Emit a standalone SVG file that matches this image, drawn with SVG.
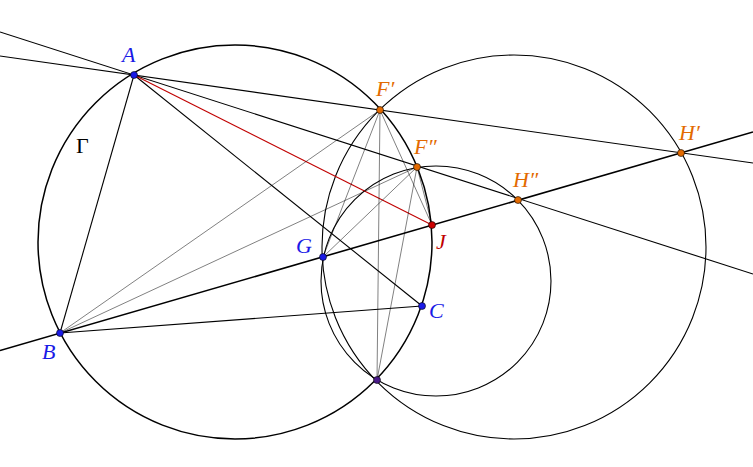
<svg xmlns="http://www.w3.org/2000/svg" width="753" height="467" viewBox="0 0 753 467">
<style>
.c{fill:none;stroke:#000;stroke-width:1.1}
.l{stroke:#000;stroke-width:1.1}
.t{stroke:#000;stroke-width:0.5}
.p{stroke:#000;stroke-width:0.6}
text{font-family:"Liberation Serif",serif;font-style:italic;font-size:22px}
.bl{fill:#1a1ae6}.or{fill:#e36a00}.rd{fill:#c00000}
</style>
<rect width="753" height="467" fill="#fff"/>
<g id="connectors">
<circle class="c" cx="235" cy="242" r="197" style="stroke-width:1.5"/>
<circle class="c" cx="514" cy="247" r="192"/>
<circle class="c" cx="436" cy="281" r="115"/>
<line class="l" x1="0" y1="350.5" x2="753" y2="132" style="stroke-width:1.6"/>
<line class="l" x1="0" y1="32" x2="753" y2="274"/>
<line class="l" x1="0" y1="56" x2="753" y2="163"/>
<line class="l" x1="134" y1="75" x2="60" y2="333"/>
<line class="l" x1="134" y1="75" x2="422" y2="306"/>
<line class="l" x1="60" y1="333" x2="422" y2="306"/>
<line x1="134" y1="75" x2="432" y2="225" stroke="#c00000" stroke-width="1.1"/>
<line class="t" x1="60" y1="333" x2="380" y2="110"/>
<line class="t" x1="60" y1="333" x2="417" y2="167"/>
<line class="t" x1="380" y1="110" x2="323" y2="257"/>
<line class="t" x1="380" y1="110" x2="377" y2="380"/>
<line class="t" x1="380" y1="110" x2="432" y2="225"/>
<line class="t" x1="417" y1="167" x2="323" y2="257"/>
<line class="t" x1="417" y1="167" x2="377" y2="380"/>
<line class="t" x1="417" y1="167" x2="432" y2="225"/>
</g>
<g id="A"><circle class="p" cx="134" cy="75" r="3.5" fill="#1a1ae6"/><text class="bl" x="122" y="62">A</text></g>
<g id="B"><circle class="p" cx="60" cy="333" r="3.5" fill="#1a1ae6"/><text class="bl" x="42" y="359">B</text></g>
<g id="C"><circle class="p" cx="422" cy="306" r="3.5" fill="#1a1ae6"/><text class="bl" x="429" y="318">C</text></g>
<g id="G"><circle class="p" cx="323" cy="257" r="3.5" fill="#1a1ae6"/><text class="bl" x="296" y="253">G</text></g>
<g id="J"><circle class="p" cx="432" cy="225" r="3.5" fill="#cc0000"/><text class="rd" x="436" y="249">J</text></g>
<g id="Fp"><circle class="p" cx="380" cy="110" r="3.5" fill="#e36a00"/><text class="or" x="376" y="96">F′</text></g>
<g id="Fpp"><circle class="p" cx="417" cy="167" r="3.5" fill="#e36a00"/><text class="or" x="414" y="154">F″</text></g>
<g id="Hpp"><circle class="p" cx="518" cy="200" r="3.5" fill="#e36a00"/><text class="or" x="513" y="187">H″</text></g>
<g id="Hp"><circle class="p" cx="681" cy="153" r="3.5" fill="#e36a00"/><text class="or" x="679" y="140">H′</text></g>
<g id="X"><circle class="p" cx="377" cy="380" r="3.5" fill="#4a1a8a"/></g>
<g id="Gamma"><text x="76" y="153" style="font-style:normal">Γ</text></g>
</svg>
